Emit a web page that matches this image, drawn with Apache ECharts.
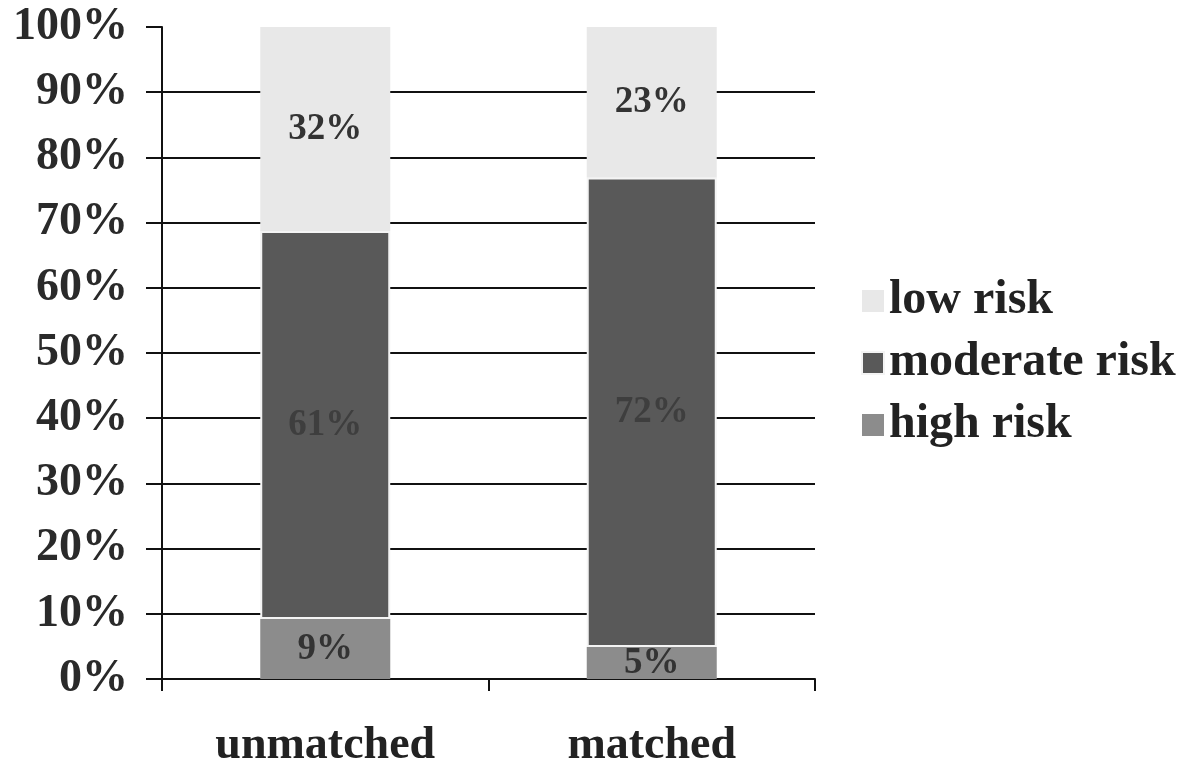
<!DOCTYPE html>
<html>
<head>
<meta charset="utf-8">
<script src="https://cdn.jsdelivr.net/npm/echarts@6/dist/echarts.min.js"></script>
<style>
html,body{margin:0;padding:0;background:#fff;}
#chart{width:1187px;height:769px;}
</style>
</head>
<body>
<div id="chart"></div>
<script>
const categories = ["unmatched", "matched"];
// segment heights (percent of bar)
const highRisk = [9.2, 4.9];
const moderateRisk = [59.5, 72.0];
const lowRisk = [31.3, 23.1];
// labels printed on the segments
const highLabels = ["9%", "5%"];
const moderateLabels = ["61%", "72%"];
const lowLabels = ["32%", "23%"];
const seriesNames = ["low risk", "moderate risk", "high risk"];

const FONT = "'Liberation Serif', 'DejaVu Serif', serif";
const chart = echarts.init(document.getElementById('chart'));

function seg(name, data, labels, color, labelColor, extraStyle) {
  return {
    name: name,
    type: 'bar',
    stack: 'total',
    barWidth: 130,
    data: data,
    itemStyle: Object.assign({ color: color }, extraStyle || {}),
    label: {
      show: true,
      position: 'inside',
      fontFamily: FONT,
      fontWeight: 'bold',
      fontSize: 37,
      color: labelColor,
      formatter: p => labels[p.dataIndex]
    }
  };
}

chart.setOption({
  animation: false,
  backgroundColor: '#fff',
  grid: { left: 162, right: 372, top: 27, bottom: 89, containLabel: false },
  legend: {
    orient: 'vertical',
    left: 856,
    top: 272,
    data: seriesNames,
    icon: 'rect',
    itemWidth: 22,
    itemHeight: 22,
    itemGap: 14,
    textStyle: { fontFamily: FONT, fontWeight: 'bold', fontSize: 48, color: '#222', lineHeight: 47 }
  },
  xAxis: {
    type: 'category',
    data: categories,
    axisLine: { lineStyle: { color: '#111', width: 2 } },
    axisTick: { show: true, length: 12, lineStyle: { color: '#111', width: 2 } },
    axisLabel: { margin: 44, fontFamily: FONT, fontWeight: 'bold', fontSize: 46, color: '#222' }
  },
  yAxis: {
    type: 'value',
    min: 0, max: 100, interval: 10,
    axisLine: { show: true, lineStyle: { color: '#111', width: 2 } },
    axisTick: { show: true, length: 16, lineStyle: { color: '#111', width: 2 } },
    axisLabel: { margin: 34, fontFamily: FONT, fontWeight: 'bold', fontSize: 46, color: '#2a2a2a', formatter: v => v + '%' },
    splitLine: { show: true, showMaxLine: false, lineStyle: { color: '#111', width: 2 } }
  },
  series: [
    seg('high risk', highRisk, highLabels, '#8c8c8c', '#333'),
    seg('moderate risk', moderateRisk, moderateLabels, '#595959', '#3e3e3e', { borderColor: '#f4f4f4', borderWidth: 2 }),
    seg('low risk', lowRisk, lowLabels, '#e8e8e8', '#333')
  ]
});
</script>
</body>
</html>
